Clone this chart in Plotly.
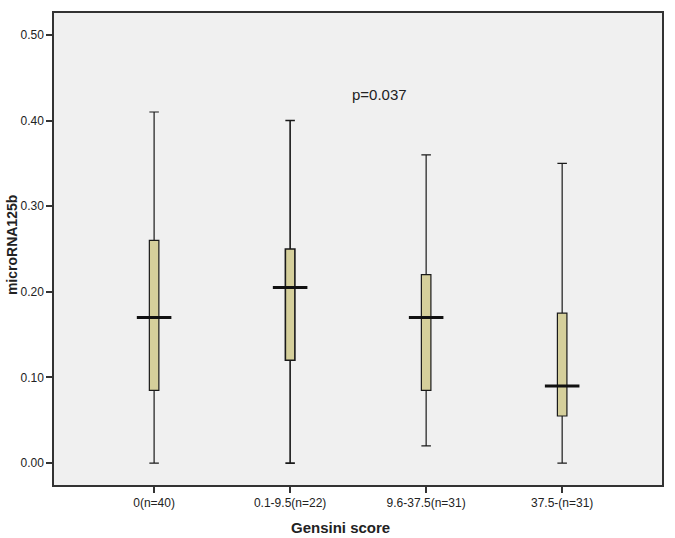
import plotly.graph_objects as go

categories = ["0(n=40)", "0.1-9.5(n=22)", "9.6-37.5(n=31)", "37.5-(n=31)"]
upper = [0.41, 0.40, 0.36, 0.35]
q3 = [0.26, 0.25, 0.22, 0.175]
median = [0.17, 0.205, 0.17, 0.09]
q1 = [0.085, 0.12, 0.085, 0.055]
lower = [0.00, 0.00, 0.02, 0.00]
y_ticks = [0.0, 0.1, 0.2, 0.3, 0.4, 0.5]
p_text = "p=0.037"

xpos = list(range(len(categories)))
line_widths = [1.2, 1.6, 1.2, 1.2]
FONT = "Liberation Sans, Arial, sans-serif"

fig = go.Figure()
for xi, a, b, c, d, e, lw in zip(xpos, q1, median, q3, lower, upper, line_widths):
    fig.add_trace(go.Box(
        x=[xi], q1=[a], median=[b], q3=[c],
        lowerfence=[d], upperfence=[e],
        width=0.07, whiskerwidth=1,
        fillcolor="#D5CF9B",
        line=dict(color="#1a1a1a", width=lw),
        boxpoints=False, showlegend=False, hoverinfo="skip",
    ))
# wide median bars
for xi, m in zip(xpos, median):
    fig.add_trace(go.Scatter(
        x=[xi - 0.127, xi + 0.127], y=[m, m], mode="lines",
        line=dict(color="#111111", width=3), showlegend=False, hoverinfo="skip",
    ))

fig.add_annotation(x=1.66, y=0.431, text=p_text, showarrow=False,
                   font=dict(family=FONT, size=15, color="#222"))
fig.add_annotation(xref="paper", yref="paper", x=(341 - 54) / 609, y=-(528 - 485) / 474,
                   text="<b>Gensini score</b>", showarrow=False, yanchor="middle",
                   font=dict(family=FONT, size=15, color="#222"))
fig.add_annotation(xref="paper", yref="paper", x=-(54 - 12) / 609, y=(485 - 244) / 474,
                   text="<b>microRNA125b</b>", showarrow=False, textangle=-90,
                   xanchor="center", yanchor="middle",
                   font=dict(family=FONT, size=14, color="#222"))

fig.update_layout(
    width=675, height=538,
    margin=dict(l=54, r=12, t=11, b=53),
    paper_bgcolor="white", plot_bgcolor="#F0F0F0",
    font=dict(family=FONT, size=12, color="#222"),
)
fig.update_xaxes(
    range=[-0.736, 3.734], tickvals=xpos, ticktext=categories,
    showline=True, mirror=True, linecolor="#333", linewidth=1.5,
    ticks="outside", ticklen=6, tickcolor="#333", tickwidth=1.5,
    showgrid=False, zeroline=False,
    tickfont=dict(family=FONT, size=12, color="#222"),
)
fig.update_yaxes(
    range=[-0.0256, 0.5256], tickvals=y_ticks, tickformat=".2f",
    showline=True, mirror=True, linecolor="#333", linewidth=1.5,
    ticks="outside", ticklen=6, tickcolor="#333", tickwidth=1.5,
    showgrid=False, zeroline=False,
    tickfont=dict(family=FONT, size=12, color="#222"),
)

fig.write_html("out.html", config={"displayModeBar": False},
               post_script="document.body.style.margin='0';document.body.style.overflow='hidden';")
